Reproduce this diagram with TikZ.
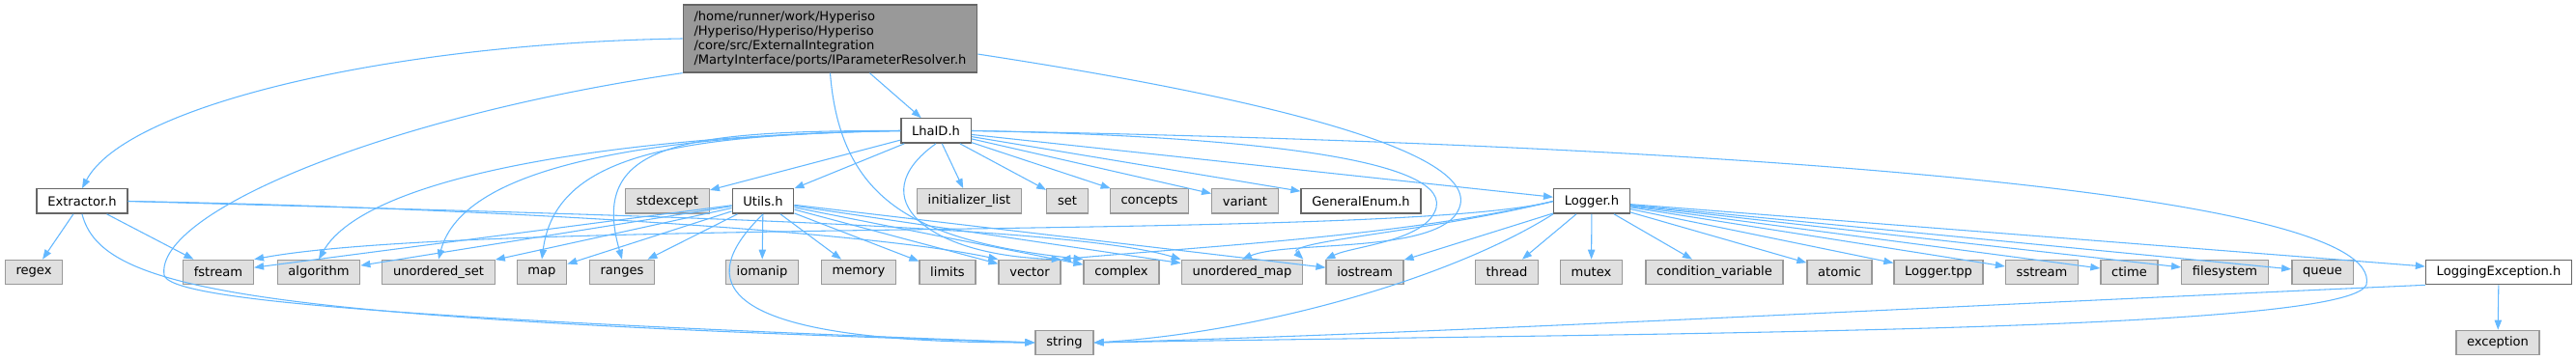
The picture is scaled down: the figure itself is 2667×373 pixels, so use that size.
\documentclass[tikz,border=0pt]{standalone}
\usepackage{fontspec}
\setmainfont{DejaVu Sans}
\usetikzlibrary{arrows.meta}
\definecolor{edgeblue}{HTML}{63B8FF}
\definecolor{grey40}{HTML}{666666}
\definecolor{grey60}{HTML}{999999}
\definecolor{sysfill}{HTML}{E0E0E0}
\tikzset{hdr/.style={draw=grey40,fill=white,line width=1pt,inner xsep=8.4pt,inner ysep=0pt,minimum height=19pt,font=\fontsize{9.8}{11.25}\selectfont},sys/.style={hdr,draw=grey60,fill=sysfill},rootbox/.style={hdr,fill=grey60,align=left,minimum height=52.5pt},inc/.style={draw=edgeblue,line width=0.8pt,-{Triangle[length=7.5pt,width=5.5pt]}}}
\begin{document}
\begin{tikzpicture}[x=0.75pt,y=-0.75pt]
\path[use as bounding box,fill=white] (0,0) rectangle (2667,373);
\node[rootbox] (root) at (859.5,40) {/home/runner/work/Hyperiso\\/Hyperiso/Hyperiso/Hyperiso\\/core/src/ExternalIntegration\\/MartyInterface/ports/IParameterResolver.h};
\node[hdr] (lha) at (969,135.5) {LhaID.h};
% row 1
\node[hdr] (ext) at (85,208.5) {Extractor.h};\node[sys] (stdx) at (691,208.5) {stdexcept};\node[hdr] (utils) at (790,208.5) {Utils.h};\node[sys] (initl) at (1003.5,208.5) {initializer\_list};\node[sys] (set) at (1105,208.5) {set};
\node[sys] (concepts) at (1190,208.5) {concepts};\node[sys] (variant) at (1289,208.5) {variant};\node[hdr] (genum) at (1409,208.5) {GeneralEnum.h};\node[hdr] (logger) at (1648,208.5) {Logger.h};
% row 2
\node[sys] (regex) at (35,282) {regex};\node[sys] (fstream) at (226,282) {fstream};\node[sys] (algo) at (330,282) {algorithm};\node[sys] (uset) at (454,282) {unordered\_set};\node[sys] (map) at (561,282) {map};\node[sys] (ranges) at (644,282) {ranges};
\node[sys] (iomanip) at (789,282) {iomanip};\node[sys] (memory) at (889,282) {memory};\node[sys] (limits) at (981,282) {limits};\node[sys] (vector) at (1066,282) {vector};\node[sys] (complex) at (1161,282) {complex};\node[sys] (umap) at (1286,282) {unordered\_map};
\node[sys] (iostream) at (1413,282) {iostream};\node[sys] (thread) at (1560,282) {thread};\node[sys] (mutex) at (1647.5,282) {mutex};\node[sys] (condvar) at (1775,282) {condition\_variable};\node[sys] (atomic) at (1904.5,282) {atomic};
\node[sys] (tpp) at (2007,282) {Logger.tpp};\node[sys] (sstream) at (2114,282) {sstream};\node[sys] (ctime) at (2204.5,282) {ctime};\node[sys] (fsys) at (2303.5,282) {filesystem};\node[sys] (queue) at (2404.5,282) {queue};\node[hdr] (logexc) at (2587,282) {LoggingException.h};
% row 3
\node[sys] (string) at (1102,355) {string};\node[sys] (exception) at (2586,355) {exception};
% straight includes
\draw[inc] (root)--(lha);\draw[inc] (logexc)--(exception);
\foreach \t in {stdx,utils,initl,set,concepts,variant,genum,logger}\draw[inc] (lha)--(\t);
\foreach \t in {regex,fstream}\draw[inc] (ext)--(\t);
\foreach \t in {fstream,algo,uset,map,ranges,iomanip,memory,limits,vector,complex,umap,iostream}\draw[inc] (utils)--(\t);
\foreach \t in {iostream,thread,mutex,condvar,atomic,tpp,sstream,ctime,fsys,queue,logexc}\draw[inc] (logger)--(\t);
% curved includes
\draw[inc] (root.west) .. controls (400,45) and (130,110) .. (ext.north);
\draw[inc] (root.south west) .. controls (400,120) and (160,220) .. (170,285) .. controls (175,310) and (400,330) .. (string.west);
\draw[inc] (root.south) .. controls (870,210) and (950,250) .. (complex.north west);
\draw[inc] (root.-6) .. controls (1300,100) and (1560,160) .. (1505,225) .. controls (1470,262) and (1330,250) .. (umap.north);
\draw[inc] (lha.west) .. controls (700,135) and (610,150) .. (ranges.north);
\draw[inc] (lha.west) .. controls (700,140) and (575,160) .. (map.north);
\draw[inc] (lha.west) .. controls (680,140) and (480,170) .. (uset.north);
\draw[inc] (lha.west) .. controls (650,140) and (380,180) .. (algo.north);
\draw[inc] (lha.south) .. controls (890,205) and (960,265) .. (vector.north east);
\draw[inc] (lha.east) .. controls (1250,140) and (1500,160) .. (1487,215) .. controls (1478,250) and (1400,255) .. (iostream.north west);
\draw[inc] (lha.east) .. controls (1800,150) and (2470,200) .. (2450,295) .. controls (2430,345) and (1700,345) .. (string.east);
\draw[inc] (ext.east) .. controls (500,215) and (900,240) .. (vector.north west);
\draw[inc] (ext.east) .. controls (600,222) and (1100,232) .. (umap.north west);
\draw[inc] (ext.south) .. controls (105,300) and (250,330) .. (string.west);
\draw[inc] (utils.south) .. controls (720,290) and (730,355) .. (string.west);
\draw[inc] (logger.west) .. controls (1450,250) and (500,225) .. (fstream.north east);
\draw[inc] (logger.west) .. controls (1450,245) and (1250,255) .. (vector.north east);
\draw[inc] (logger.west) .. controls (1480,240) and (1330,250) .. (umap.north east);
\draw[inc] (logger.south west) .. controls (1500,290) and (1300,345) .. (string.east);
\draw[inc] (logexc.south west) .. controls (2000,318) and (1500,345) .. (string.east);
\end{tikzpicture}
\end{document}
